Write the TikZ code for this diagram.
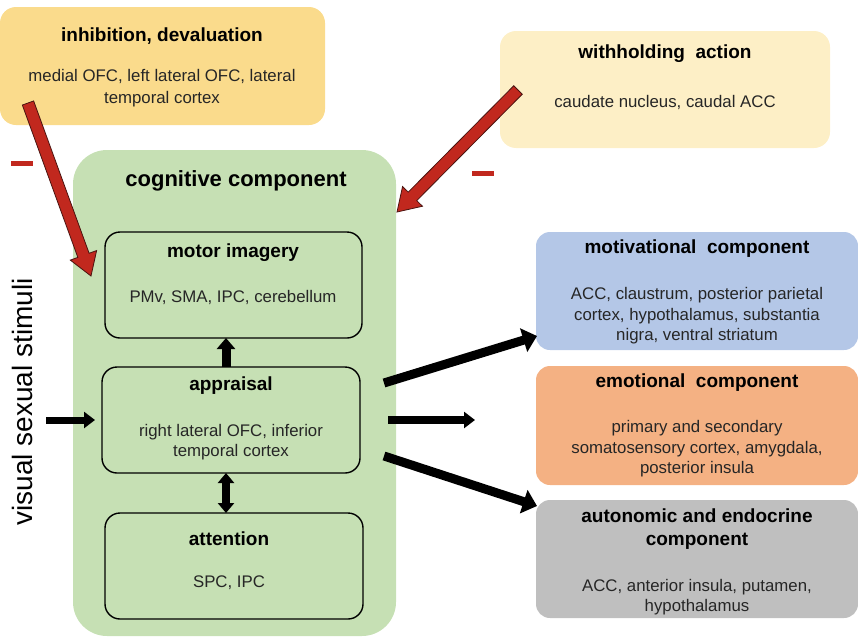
\documentclass[tikz,border=0pt]{standalone}
\usepackage{fontspec}
\setmainfont{Liberation Sans}
\usetikzlibrary{arrows.meta,calc}
\definecolor{inhfill}{HTML}{FADB8C}
\definecolor{withfill}{HTML}{FDEFC6}
\definecolor{cogfill}{HTML}{C6E0B4}
\definecolor{motfill}{HTML}{B4C7E7}
\definecolor{emofill}{HTML}{F4B183}
\definecolor{autfill}{HTML}{BFBFBF}
\definecolor{redarr}{HTML}{C1281E}
\definecolor{redline}{HTML}{4A1410}
\definecolor{txt}{HTML}{262626}
\begin{document}
\begin{tikzpicture}[x=1pt,y=-1pt,
  box/.style={rounded corners=16pt, inner sep=0pt, outer sep=0pt},
  inbox/.style={box, draw=black, line width=1.4pt, rounded corners=15pt, fill=cogfill},
  ttl/.style={font=\fontsize{19}{23}\selectfont\bfseries, text=black, align=center, inner sep=0pt},
  bdy/.style={font=\fontsize{16.8}{20.5}\selectfont, text=txt, align=center, inner sep=0pt},
  blk/.style={line width=9pt, -{Triangle[length=14pt,width=24pt]}},
  blks/.style={line width=7pt, -{Triangle[length=11pt,width=16pt]}},
  redarrow/.style={fill=redarr, draw=redline, line width=0.8pt, line join=miter},
  minus/.style={fill=redarr, inner sep=0pt, minimum width=22pt, minimum height=5pt}
]
\useasboundingbox (0,0) rectangle (858,637);

% top boxes
\node[box, fill=inhfill, minimum width=325pt, minimum height=118pt] (inh) at (162.5,66) {};
\node[ttl] (inhT) at (162,36) {inhibition, devaluation};
\node[bdy, font=\fontsize{16.8}{22}\selectfont] (inhB) at (162,88) {medial OFC, left lateral OFC, lateral\\temporal cortex};

\node[box, fill=withfill, minimum width=330pt, minimum height=117pt] (wth) at (665,89.5) {};
\node[ttl] (wthT) at (665,54) {withholding\ \ action};
\node[bdy] (wthB) at (665,102) {caudate nucleus, caudal ACC};

% cognitive component
\node[box, fill=cogfill, rounded corners=34pt, minimum width=323pt, minimum height=486pt] (cog) at (234.5,393) {};
\node[ttl, font=\fontsize{22}{26}\selectfont\bfseries] (cogT) at (236,181) {cognitive component};

\node[inbox, minimum width=257pt, minimum height=106pt] (mot) at (233.5,285) {};
\node[ttl] (motT) at (233,253) {motor imagery};
\node[bdy] (motB) at (233,297) {PMv, SMA, IPC, cerebellum};

\node[inbox, minimum width=258pt, minimum height=106pt] (app) at (231,420) {};
\node[ttl] (appT) at (231,386) {appraisal};
\node[bdy] (appB) at (231,442) {right lateral OFC, inferior\\temporal cortex};

\node[inbox, minimum width=258pt, minimum height=106pt] (att) at (234,566) {};
\node[ttl] (attT) at (229,539) {attention};
\node[bdy] (attB) at (229,583) {SPC, IPC};

% right boxes
\node[box, fill=motfill, rounded corners=14pt, minimum width=322pt, minimum height=118pt] (mtv) at (697,291) {};
\node[ttl] (mtvT) at (697,249) {motivational\ \ component};
\node[bdy] (mtvB) at (697,316) {ACC, claustrum, posterior parietal\\cortex, hypothalamus, substantia\\nigra, ventral striatum};

\node[box, fill=emofill, rounded corners=14pt, minimum width=322pt, minimum height=119pt] (emo) at (697,425.5) {};
\node[ttl] (emoT) at (697,383) {emotional\ \ component};
\node[bdy] (emoB) at (697,449) {primary and secondary\\somatosensory cortex, amygdala,\\posterior insula};

\node[box, fill=autfill, rounded corners=14pt, minimum width=322pt, minimum height=118pt] (aut) at (697,559) {};
\node[ttl] (autT) at (697,529.5) {autonomic and endocrine\\component};
\node[bdy] (autB) at (697,597) {ACC, anterior insula, putamen,\\hypothalamus};

% input label
\node[font=\fontsize{28}{30}\selectfont, text=black, rotate=90, inner sep=0pt] (vis) at (22,402) {visual sexual stimuli};

% black arrows
\coordinate (vin) at (46,420);
\draw[blks] (vin) -- ([xshift=-7pt]app.west);
\draw[line width=9pt, -{Triangle[length=11pt,width=18pt]}] ([xshift=-5pt]app.north) -- ([xshift=-5pt]app.north |- mot.south);
\draw[line width=8pt, {Triangle[length=10pt,width=16pt]}-{Triangle[length=10pt,width=16pt]}] ([xshift=-5pt]app.south) -- ([xshift=-5pt]app.south |- att.north);

\coordinate (o1) at (384,383);
\coordinate (o2) at (388,420);
\coordinate (o3) at (384,456);
\coordinate (e2) at (475,420);
\draw[blk] (o1) -- ($(mtv.south west)+(1,-14)$);
\draw[line width=8pt, -{Triangle[length=11pt,width=16pt]}] (o2) -- (e2);
\draw[blk] (o3) -- ($(aut.north west)+(1,6)$);

% red inhibitory arrows
\coordinate (rt1) at (28,103);
\coordinate (rp1) at (91,276);
\coordinate (rh1) at ($(rp1)!22pt!(rt1)$);
\draw[redarrow] ($(rt1)!6pt!90:(rp1)$) -- ($(rh1)!6pt!90:(rp1)$) -- ($(rh1)!14pt!90:(rp1)$) -- (rp1)
  -- ($(rh1)!14pt!-90:(rp1)$) -- ($(rh1)!6pt!-90:(rp1)$) -- ($(rt1)!6pt!-90:(rp1)$) -- cycle;

\coordinate (rt2) at (518,90);
\coordinate (rp2) at (397,212);
\coordinate (rh2) at ($(rp2)!22pt!(rt2)$);
\draw[redarrow] ($(rt2)!6pt!90:(rp2)$) -- ($(rh2)!6pt!90:(rp2)$) -- ($(rh2)!14pt!90:(rp2)$) -- (rp2)
  -- ($(rh2)!14pt!-90:(rp2)$) -- ($(rh2)!6pt!-90:(rp2)$) -- ($(rt2)!6pt!-90:(rp2)$) -- cycle;

\node[minus] (m1) at (22,163.5) {};
\node[minus] (m2) at (482.5,173.5) {};
\end{tikzpicture}
\end{document}
